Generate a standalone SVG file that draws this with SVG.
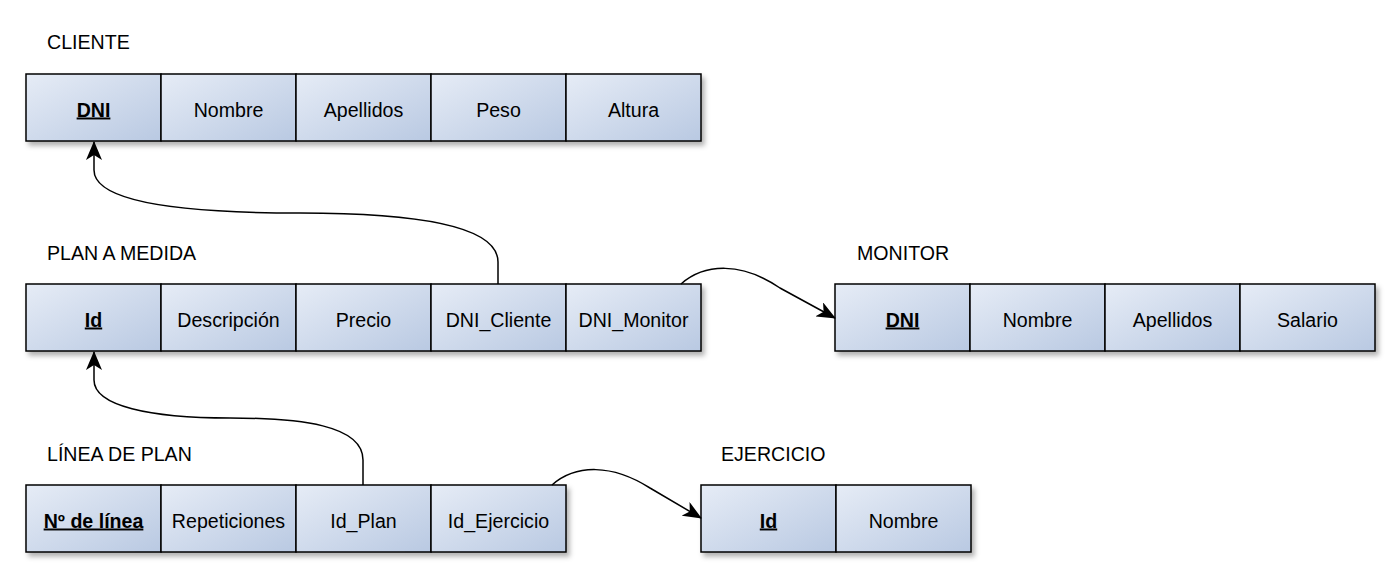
<svg xmlns="http://www.w3.org/2000/svg" width="1400" height="579" viewBox="0 0 1400 579">
<defs>
<linearGradient id="g" x1="0" y1="0" x2="1" y2="1">
<stop offset="0" stop-color="#e6ecf6"/>
<stop offset="1" stop-color="#b9c9e2"/>
</linearGradient>
<filter id="sh" x="-5%" y="-20%" width="110%" height="150%">
<feDropShadow dx="3" dy="4" stdDeviation="2.5" flood-color="#000" flood-opacity="0.3"/>
</filter>
<marker id="arr" viewBox="0 0 19 16" refX="18" refY="8" markerWidth="19" markerHeight="16" markerUnits="userSpaceOnUse" orient="auto">
<path d="M0,0 L19,8 L0,16 L5,8 Z" fill="#000"/>
</marker>
<style>
.c{fill:url(#g);stroke:#000;stroke-width:1.5}
.t{font-family:"Liberation Sans",Arial,sans-serif;font-size:19.6px;fill:#000;text-anchor:middle}
.k{font-weight:bold;text-decoration:underline}
.l{font-family:"Liberation Sans",Arial,sans-serif;font-size:19.6px;fill:#000}
.e{fill:none;stroke:#000;stroke-width:1.5}
</style>
</defs>
<rect width="1400" height="579" fill="#fff"/>

<g id="cliente">
<text class="l" x="47" y="49">CLIENTE</text>
<g filter="url(#sh)">
<rect class="c" x="26" y="74" width="135" height="67"/>
<rect class="c" x="161" y="74" width="135" height="67"/>
<rect class="c" x="296" y="74" width="135" height="67"/>
<rect class="c" x="431" y="74" width="135" height="67"/>
<rect class="c" x="566" y="74" width="135" height="67"/>
</g>
<text class="t k" x="93.5" y="116.5">DNI</text>
<text class="t" x="228.5" y="116.5">Nombre</text>
<text class="t" x="363.5" y="116.5">Apellidos</text>
<text class="t" x="498.5" y="116.5">Peso</text>
<text class="t" x="633.5" y="116.5">Altura</text>
</g>

<g id="plan">
<text class="l" x="47" y="260">PLAN A MEDIDA</text>
<g filter="url(#sh)">
<rect class="c" x="26" y="284" width="135" height="67"/>
<rect class="c" x="161" y="284" width="135" height="67"/>
<rect class="c" x="296" y="284" width="135" height="67"/>
<rect class="c" x="431" y="284" width="135" height="67"/>
<rect class="c" x="566" y="284" width="135" height="67"/>
</g>
<text class="t k" x="93.5" y="326.5">Id</text>
<text class="t" x="228.5" y="326.5">Descripción</text>
<text class="t" x="363.5" y="326.5">Precio</text>
<text class="t" x="498.5" y="326.5">DNI_Cliente</text>
<text class="t" x="633.5" y="326.5">DNI_Monitor</text>
</g>

<g id="monitor">
<text class="l" x="857" y="260">MONITOR</text>
<g filter="url(#sh)">
<rect class="c" x="835" y="284" width="135" height="67"/>
<rect class="c" x="970" y="284" width="135" height="67"/>
<rect class="c" x="1105" y="284" width="135" height="67"/>
<rect class="c" x="1240" y="284" width="135" height="67"/>
</g>
<text class="t k" x="902.5" y="326.5">DNI</text>
<text class="t" x="1037.5" y="326.5">Nombre</text>
<text class="t" x="1172.5" y="326.5">Apellidos</text>
<text class="t" x="1307.5" y="326.5">Salario</text>
</g>

<g id="linea">
<text class="l" x="47" y="461">LÍNEA DE PLAN</text>
<g filter="url(#sh)">
<rect class="c" x="26" y="485" width="135" height="67"/>
<rect class="c" x="161" y="485" width="135" height="67"/>
<rect class="c" x="296" y="485" width="135" height="67"/>
<rect class="c" x="431" y="485" width="135" height="67"/>
</g>
<text class="t k" x="93.5" y="527.5">Nº de línea</text>
<text class="t" x="228.5" y="527.5">Repeticiones</text>
<text class="t" x="363.5" y="527.5">Id_Plan</text>
<text class="t" x="498.5" y="527.5">Id_Ejercicio</text>
</g>

<g id="ejercicio">
<text class="l" x="721" y="461">EJERCICIO</text>
<g filter="url(#sh)">
<rect class="c" x="701" y="485" width="135" height="67"/>
<rect class="c" x="836" y="485" width="135" height="67"/>
</g>
<text class="t k" x="768.5" y="527.5">Id</text>
<text class="t" x="903.5" y="527.5">Nombre</text>
</g>

<g id="connectors">
<path class="e" marker-end="url(#arr)" d="M498,284 L498,262 C498,222 400,213 300,213 C190,213 94,204 94,170 L94,142"/>
<path class="e" marker-end="url(#arr)" d="M363,485 L363,460 C363,425 300,418 230,418 C150,418 94,406 94,380 L94,352"/>
<path class="e" marker-end="url(#arr)" d="M681,284 C705,263 742,262 780,288 L835,318"/>
<path class="e" marker-end="url(#arr)" d="M552,485 C576,464 612,464 650,488 L701,518"/>
</g>
</svg>
